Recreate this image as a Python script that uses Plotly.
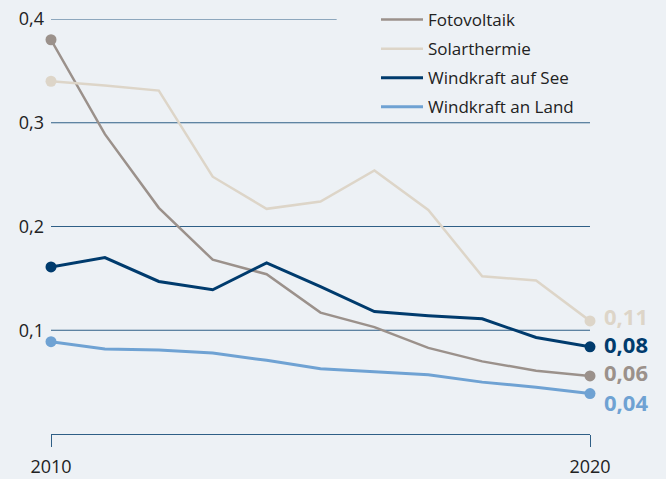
import plotly.graph_objects as go

years = list(range(2010, 2021))
series_names = ["Fotovoltaik", "Solarthermie", "Windkraft auf See", "Windkraft an Land"]
fotovoltaik = [0.380, 0.289, 0.218, 0.168, 0.154, 0.117, 0.103, 0.083, 0.070, 0.061, 0.056]
solarthermie = [0.340, 0.336, 0.331, 0.248, 0.217, 0.224, 0.254, 0.216, 0.152, 0.148, 0.109]
wind_see = [0.161, 0.170, 0.147, 0.139, 0.165, 0.142, 0.118, 0.114, 0.111, 0.093, 0.084]
wind_land = [0.089, 0.082, 0.081, 0.078, 0.071, 0.063, 0.060, 0.057, 0.050, 0.045, 0.039]
y_ticks = [0.1, 0.2, 0.3, 0.4]
y_tick_labels = ["0,1", "0,2", "0,3", "0,4"]
x_ticks = [2010, 2020]
x_tick_labels = ["2010", "2020"]

all_values = [fotovoltaik, solarthermie, wind_see, wind_land]
colors = ["#9b918b", "#ddd5c8", "#003b6d", "#6fa2d3"]
widths = [2.5, 2.5, 3, 3]
label_shift = [4, 5, 3, -8]

BG = "#edf1f5"
GRID = "#2f5f86"
FONT = "Open Sans"

fig = go.Figure()
for i, (name, vals) in enumerate(zip(series_names, all_values)):
    fig.add_trace(go.Scatter(
        x=years, y=vals, mode="lines", name=name,
        line=dict(color=colors[i], width=widths[i]),
        legendgroup=name, cliponaxis=False,
    ))
    fig.add_trace(go.Scatter(
        x=[years[0], years[-1]], y=[vals[0], vals[-1]], mode="markers",
        marker=dict(color=colors[i], size=11), showlegend=False,
        legendgroup=name, cliponaxis=False,
    ))
    fig.add_annotation(
        x=years[-1], y=vals[-1], text=f"{vals[-1]:.2f}".replace(".", ","),
        xanchor="left", yanchor="middle", xshift=12, yshift=label_shift[i],
        showarrow=False, font=dict(family=FONT, size=22, color=colors[i], weight="bold"),
    )

# grid lines (top one stops before the legend)
for t in y_ticks:
    x_end = years[-1] if t != max(y_ticks) else 2015.3
    fig.add_shape(type="line", xref="x", yref="y", x0=years[0], x1=x_end, y0=t, y1=t,
                  line=dict(color=GRID, width=1), layer="below")

fig.update_layout(
    width=666, height=479,
    paper_bgcolor=BG, plot_bgcolor=BG,
    margin=dict(l=51, r=76, t=19, b=45, autoexpand=False),
    font=dict(family=FONT, size=18, color="#222222"),
    showlegend=True,
    legend=dict(xref="container", yref="container", x=376 / 666, y=1 - 2 / 479,
                xanchor="left", yanchor="top", bgcolor="rgba(0,0,0,0)",
                font=dict(family=FONT, size=17, color="#222222"),
                tracegroupgap=4, itemwidth=42),
    xaxis=dict(range=[2010, 2020], tickvals=x_ticks, ticktext=x_tick_labels,
               showgrid=False, zeroline=False, showline=True, linecolor=GRID, linewidth=1,
               ticks="outside", ticklen=12, tickcolor=GRID, tickwidth=1,
               ticklabelstandoff=4),
    yaxis=dict(range=[0, 0.4], tickvals=y_ticks, ticktext=y_tick_labels,
               showgrid=False, zeroline=False, showline=False, ticks="", ticklabelstandoff=6),
)

fig.write_html("out.html", config={"displayModeBar": False},
               post_script="document.body.style.margin='0';")
